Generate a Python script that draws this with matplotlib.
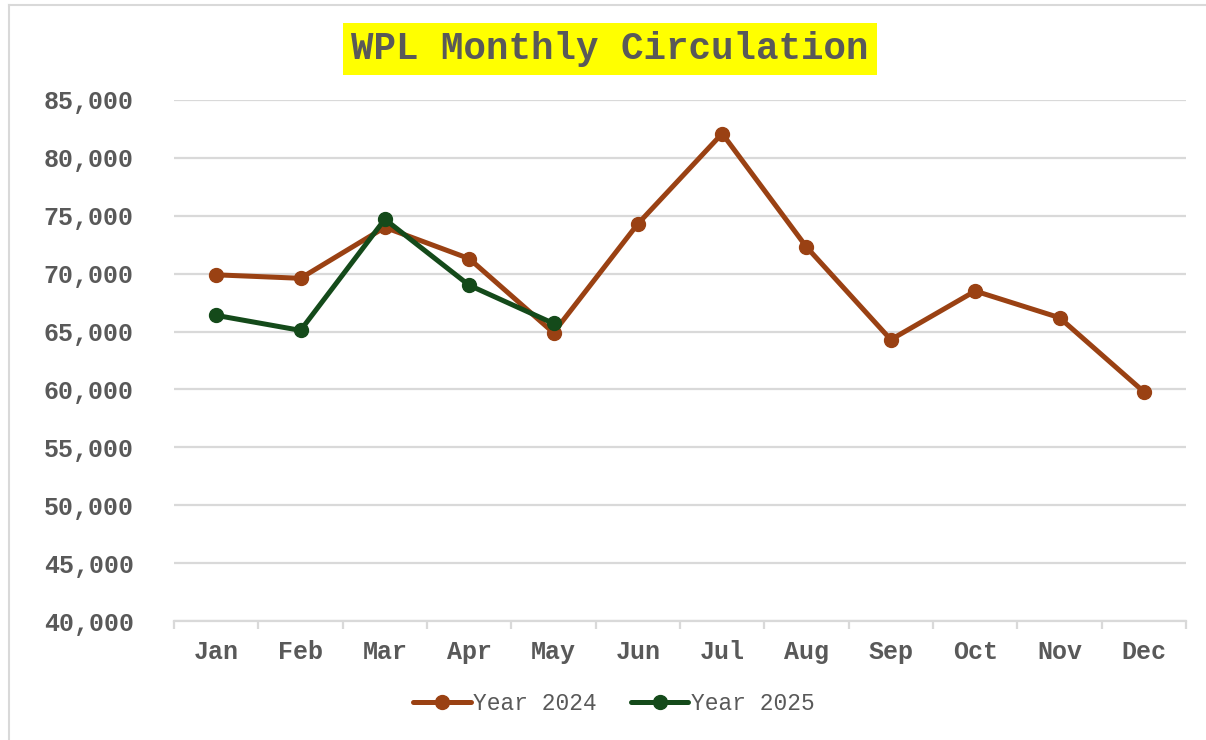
import numpy as np
import matplotlib
matplotlib.use("Agg")
import matplotlib.pyplot as plt
from matplotlib.lines import Line2D

months = ['Jan', 'Feb', 'Mar', 'Apr', 'May', 'Jun', 'Jul', 'Aug', 'Sep', 'Oct', 'Nov', 'Dec']
year_2024 = [69900, 69600, 74000, 71300, 64900, 74300, 82100, 72300, 64300, 68500, 66200, 59800]
year_2025 = [66400, 65100, 74700, 69000, 65700]
y_ticks = [40000, 45000, 50000, 55000, 60000, 65000, 70000, 75000, 80000, 85000]

grey = '#595959'
grid_col = '#D9D9D9'
brown = '#9A4113'
green = '#144A1A'
font = 'Liberation Mono'

fig = plt.figure(figsize=(12.06, 7.4), dpi=100)
ax = fig.add_axes([174 / 1206, 1 - 621 / 740, (1186 - 174) / 1206, (621 - 100) / 740])

x = np.arange(len(months))
ax.plot(x, year_2024, color=brown, linewidth=3.6, marker='o', markersize=10,
        label='Year 2024', solid_capstyle='round', zorder=3)
ax.plot(x[:len(year_2025)], year_2025, color=green, linewidth=3.6, marker='o',
        markersize=10, label='Year 2025', solid_capstyle='round', zorder=4)

ax.set_xlim(-0.5, len(months) - 0.5)
ax.set_ylim(40000, 85000)
ax.set_yticks(y_ticks)
ax.set_yticklabels([f'{v:,}' for v in y_ticks])
ax.set_xticks(x)
ax.set_xticklabels(months)

# grid lines and axis styling
ax.yaxis.grid(True, color=grid_col, linewidth=1.6)
ax.set_axisbelow(True)
for side in ['top', 'right', 'left']:
    ax.spines[side].set_visible(False)
ax.spines['bottom'].set_color(grid_col)
ax.spines['bottom'].set_linewidth(1.6)

ax.tick_params(axis='y', length=0, pad=29, labelcolor=grey)
ax.tick_params(axis='x', length=0, pad=14, labelcolor=grey)
for lbl in ax.get_yticklabels() + ax.get_xticklabels():
    lbl.set_fontfamily(font)
    lbl.set_fontweight('bold')
    lbl.set_fontsize(18)

# category boundary tick marks
ax.set_xticks(np.arange(-0.5, len(months), 1.0), minor=True)
ax.tick_params(axis='x', which='minor', length=6, width=1.6, color=grid_col, direction='out')

# title with yellow box
fig.text(610 / 1206, 1 - 49 / 740, 'WPL Monthly Circulation', ha='center', va='center',
         fontsize=27, fontweight='bold', family=font, color=grey,
         bbox=dict(boxstyle='square,pad=0.22', facecolor='#FFFF00', edgecolor='none'))

leg = fig.legend(loc='center', bbox_to_anchor=(614 / 1206, 1 - 704 / 740), ncol=2,
                 frameon=False, handlelength=2.5, handletextpad=0.1, columnspacing=1.5,
                 prop={'family': font, 'size': 16.5})
for t in leg.get_texts():
    t.set_color(grey)

# outer chart border
fig.add_artist(Line2D([9 / 1206, 9 / 1206], [0, 1 - 5 / 740], color=grid_col, linewidth=1.5))
fig.add_artist(Line2D([9 / 1206, 1], [1 - 5 / 740, 1 - 5 / 740], color=grid_col, linewidth=1.5))

fig.savefig('out.png', dpi=100)
